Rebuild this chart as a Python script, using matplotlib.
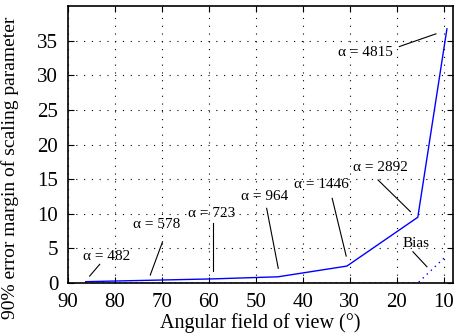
import matplotlib.pyplot as plt
from matplotlib.transforms import offset_copy

# Data
angles = [86.2, 72.6, 59.2, 45.3, 30.6, 15.5, 9.3]
margin = [0.2, 0.4, 0.6, 0.9, 2.45, 9.5, 36.7]
bias = [0.0, 0.0, 0.0, 0.0, 0.0, 0.0, 4.0]
alpha_labels = ["482", "578", "723", "964", "1446", "2892", "4815"]

# label layout (pixels from data point): text centre, line start, line end
text_off = [(20.6, 24.9), (7.3, 56.2), (-0.7, 65.5), (-12.9, 80.1),
            (-25.3, 81.7), (-37.4, 50.0), (-81.6, -23.3)]
line_start = [(13.9, 17.3), (12.9, 38.5), (0.9, 55.5), (-11.2, 68.5),
              (-14.7, 67.7), (-39.8, 37.3), (-47.6, -17.7)]
line_end = [(3.9, 5.6), (0.6, 5.2), (0.9, 8.1), (0.4, 8.5),
            (-0.7, 10.0), (-7.4, 5.6), (-11.0, -5.0)]

plt.rcParams['font.family'] = ['Liberation Serif', 'DejaVu Serif']

fig = plt.figure(figsize=(4.59, 3.33), dpi=100)
ax = fig.add_axes([0.148, 0.150, 0.839, 0.832])
ax.set_xlim(90, 8)
ax.set_ylim(0, 40)

ax.plot(angles, margin, color='#0000ff', lw=1.0)
ax.plot(angles, bias, color='#0000ff', lw=1.0, ls=(0, (1, 3)))


def leader(x, y, s, e):
    # short black line from near the label towards the point
    p0 = offset_copy(ax.transData, fig=fig, x=s[0], y=s[1], units='dots').transform((x, y))
    p1 = offset_copy(ax.transData, fig=fig, x=e[0], y=e[1], units='dots').transform((x, y))
    q0, q1 = ax.transData.inverted().transform([p0, p1])
    ax.plot([q0[0], q1[0]], [q0[1], q1[1]], color='k', lw=0.8, clip_on=False)


for lab, t, s, e, x, y in zip(alpha_labels, text_off, line_start, line_end, angles, margin):
    ax.annotate("α = " + lab, xy=(x, y), xytext=t, textcoords='offset pixels',
                ha='center', va='center', fontsize=11)
    leader(x, y, s, e)

# Bias label
bx, by = angles[-1], bias[-1]
ax.annotate("Bias", xy=(bx, by), xytext=(-30.6, 12.0), textcoords='offset pixels',
            ha='center', va='center', fontsize=11)
leader(bx, by, (-34.0, 3.6), (-20.0, -11.4))

ax.set_xticks([90, 80, 70, 60, 50, 40, 30, 20, 10])
ax.set_yticks([0, 5, 10, 15, 20, 25, 30, 35])
ax.grid(True, ls=(0, (1, 6)), color='k', lw=0.8)
ax.tick_params(direction='in', top=True, right=True, labelsize=15, length=4, pad=7)
for sp in ax.spines.values():
    sp.set_linewidth(1.2)

ax.set_xlabel("Angular field of view (°)", fontsize=14.5, labelpad=1)
ax.set_ylabel("90% error margin of scaling parameter", fontsize=14)
ax.yaxis.set_label_coords(-0.128, 0.415)

fig.savefig("out.png", dpi=100)
